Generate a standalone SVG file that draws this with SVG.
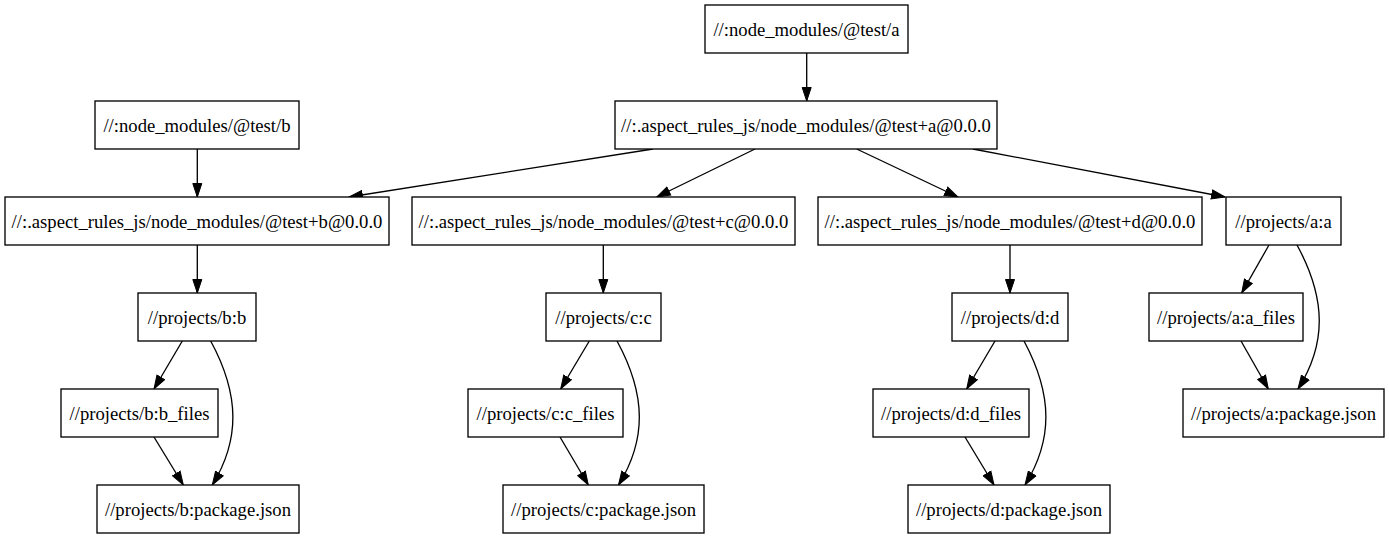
<svg xmlns="http://www.w3.org/2000/svg" width="1389" height="539" viewBox="0 0 1389 539">
<style>
.n rect{fill:#fff;stroke:#000;stroke-width:1.33}
.n text{font-family:Liberation Serif, Times New Roman, Times, DejaVu Serif, serif;font-size:18.67px;text-anchor:middle;fill:#000}
.e path{fill:none;stroke:#000;stroke-width:1.33;marker-end:url(#ah)}
</style>
<defs>
<marker id="ah" markerUnits="userSpaceOnUse" markerWidth="15" markerHeight="11" refX="14" refY="5" orient="auto" viewBox="0 0 15 10">
<path d="M0.5,0.5 L14,5 L0.5,9.5 z" fill="#000" stroke="#000" stroke-width="1"/>
</marker>
</defs>
<rect width="1389" height="539" fill="#fff"/>
<g id="edges" class="e">
<path d="M806.7,53 L806.7,101"/>
<path d="M197.3,149 L197.3,197"/>
<path d="M653,149 L349,197"/>
<path d="M755,149 L656.7,197"/>
<path d="M856.7,149 L958,197"/>
<path d="M973,149 L1225,197"/>
<path d="M197.3,245 L197.3,293"/>
<path d="M603.3,245 L603.3,293"/>
<path d="M1010,245 L1010,293"/>
<path d="M182.3,341 L154,389"/>
<path d="M154,437 L183.3,485"/>
<path d="M210.7,341 C240,395 240,440 212.3,485"/>
<path d="M589.3,341 L560.7,389"/>
<path d="M560,437 L588.3,485"/>
<path d="M617,341 C646.5,395 646.5,440 618.5,485"/>
<path d="M995,341 L966.7,389"/>
<path d="M965,437 L994,485"/>
<path d="M1024,341 C1053,395 1053,440 1025,485"/>
<path d="M1269,245 L1241.7,293"/>
<path d="M1241,341 L1268.3,389"/>
<path d="M1297,245 C1326.5,299 1326.5,344 1298,389"/>
</g>
<g id="n_na" class="n"><rect x="705" y="5" width="203" height="48"/><text x="806.5" y="35.5" font-family="Liberation Serif">//:node_modules/@test/a</text></g>
<g id="n_aa" class="n"><rect x="615" y="101" width="382" height="48"/><text x="806" y="131.5">//:.aspect_rules_js/node_modules/@test+a@0.0.0</text></g>
<g id="n_nb" class="n"><rect x="95" y="101" width="204" height="48"/><text x="197" y="131.5">//:node_modules/@test/b</text></g>
<g id="n_ab" class="n"><rect x="5" y="197" width="384" height="48"/><text x="197" y="227.5">//:.aspect_rules_js/node_modules/@test+b@0.0.0</text></g>
<g id="n_ac" class="n"><rect x="412" y="197" width="383" height="48"/><text x="603.5" y="227.5">//:.aspect_rules_js/node_modules/@test+c@0.0.0</text></g>
<g id="n_ad" class="n"><rect x="818" y="197" width="384" height="48"/><text x="1010" y="227.5">//:.aspect_rules_js/node_modules/@test+d@0.0.0</text></g>
<g id="n_pa" class="n"><rect x="1226" y="197" width="115" height="48"/><text x="1283.5" y="227.5">//projects/a:a</text></g>
<g id="n_bb" class="n"><rect x="138" y="293" width="118" height="48"/><text x="197" y="323.5">//projects/b:b</text></g>
<g id="n_cc" class="n"><rect x="546" y="293" width="115" height="48"/><text x="603.5" y="323.5">//projects/c:c</text></g>
<g id="n_dd" class="n"><rect x="952" y="293" width="116" height="48"/><text x="1010" y="323.5">//projects/d:d</text></g>
<g id="n_afiles" class="n"><rect x="1149" y="293" width="154" height="48"/><text x="1226" y="323.5">//projects/a:a_files</text></g>
<g id="n_apkg" class="n"><rect x="1183" y="389" width="201" height="48"/><text x="1283.5" y="419.5">//projects/a:package.json</text></g>
<g id="n_bfiles" class="n"><rect x="61" y="389" width="157" height="48"/><text x="139.5" y="419.5">//projects/b:b_files</text></g>
<g id="n_cfiles" class="n"><rect x="468" y="389" width="155" height="48"/><text x="545.5" y="419.5">//projects/c:c_files</text></g>
<g id="n_dfiles" class="n"><rect x="873" y="389" width="156" height="48"/><text x="951" y="419.5">//projects/d:d_files</text></g>
<g id="n_bpkg" class="n"><rect x="97" y="485" width="202" height="48"/><text x="198" y="515.5">//projects/b:package.json</text></g>
<g id="n_cpkg" class="n"><rect x="503" y="485" width="201" height="48"/><text x="603.5" y="515.5">//projects/c:package.json</text></g>
<g id="n_dpkg" class="n"><rect x="908" y="485" width="202" height="48"/><text x="1009" y="515.5">//projects/d:package.json</text></g>
</svg>
